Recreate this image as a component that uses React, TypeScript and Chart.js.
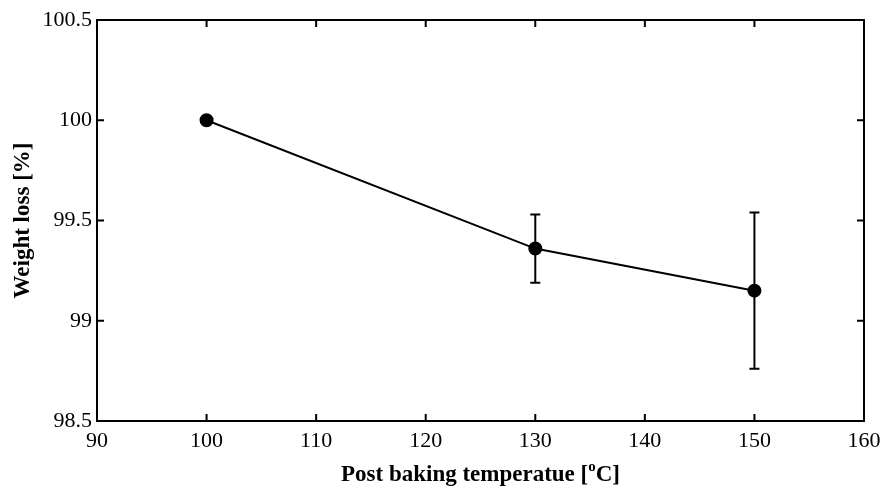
import React, { useEffect, useRef } from "react";
import { Chart, registerables } from "chart.js";

Chart.register(...registerables);

const temperatures = [100, 130, 150];
const weightLoss = [100, 99.36, 99.15];
const errorUpper = [null, 99.53, 99.54];
const errorLower = [null, 99.19, 98.76];

const xMin = 90;
const xMax = 160;
const xStep = 10;
const yMin = 98.5;
const yMax = 100.5;
const yStep = 0.5;

const xTitle = "Post baking temperatue [";
const xTitleSup = "o";
const xTitleEnd = "C]";
const yTitle = "Weight loss [%]";

const FONT = "'Liberation Serif', 'Times New Roman', serif";

const framePlugin = {
  id: "matlabFrame",
  afterDatasetsDraw(chart: any) {
    const { ctx, scales } = chart;
    const xs = scales.x;
    const ys = scales.y;
    ctx.save();
    ctx.strokeStyle = "#000";
    ctx.lineWidth = 2;
    for (let i = 0; i < temperatures.length; i++) {
      const up = errorUpper[i];
      const lo = errorLower[i];
      if (up == null || lo == null) continue;
      const px = xs.getPixelForValue(temperatures[i]);
      const pu = ys.getPixelForValue(up);
      const pl = ys.getPixelForValue(lo);
      ctx.beginPath();
      ctx.moveTo(px, pu);
      ctx.lineTo(px, pl);
      ctx.moveTo(px - 5, pu);
      ctx.lineTo(px + 5, pu);
      ctx.moveTo(px - 5, pl);
      ctx.lineTo(px + 5, pl);
      ctx.stroke();
    }
    ctx.restore();
  },
  afterDraw(chart: any) {
    const { ctx, chartArea, scales } = chart;
    const { left, right, top, bottom } = chartArea;
    const xs = scales.x;
    const ys = scales.y;
    ctx.save();
    ctx.strokeStyle = "#000";
    ctx.lineWidth = 2;
    ctx.strokeRect(left, top, right - left, bottom - top);
    const tl = 7;
    ctx.beginPath();
    for (let v = xMin; v <= xMax + 1e-9; v += xStep) {
      const px = xs.getPixelForValue(v);
      ctx.moveTo(px, bottom);
      ctx.lineTo(px, bottom - tl);
      ctx.moveTo(px, top);
      ctx.lineTo(px, top + tl);
    }
    for (let v = yMin; v <= yMax + 1e-9; v += yStep) {
      const py = ys.getPixelForValue(v);
      ctx.moveTo(left, py);
      ctx.lineTo(left + tl, py);
      ctx.moveTo(right, py);
      ctx.lineTo(right - tl, py);
    }
    ctx.stroke();

    // titles
    ctx.fillStyle = "#000";
    const big = `bold 23px ${FONT}`;
    const small = `bold 15px ${FONT}`;
    ctx.font = big;
    ctx.textBaseline = "alphabetic";
    const w1 = ctx.measureText(xTitle).width;
    ctx.font = small;
    const w2 = ctx.measureText(xTitleSup).width;
    ctx.font = big;
    const w3 = ctx.measureText(xTitleEnd).width;
    const total = w1 + w2 + w3;
    const cx = (left + right) / 2;
    let sx = cx - total / 2;
    const by = 481;
    ctx.textAlign = "left";
    ctx.fillText(xTitle, sx, by);
    sx += w1;
    ctx.font = small;
    ctx.fillText(xTitleSup, sx, by - 10);
    sx += w2;
    ctx.font = big;
    ctx.fillText(xTitleEnd, sx, by);

    ctx.translate(23, (top + bottom) / 2);
    ctx.rotate(-Math.PI / 2);
    ctx.textAlign = "center";
    ctx.textBaseline = "middle";
    ctx.font = `bold 23px ${FONT}`;
    ctx.fillText(yTitle, 0, 0);
    ctx.restore();
  },
};

export default function App() {
  const canvasRef = useRef<HTMLCanvasElement | null>(null);

  useEffect(() => {
    document.body.style.margin = "0";
    const canvas = canvasRef.current;
    if (!canvas) return;
    const chart = new Chart(canvas, {
      type: "scatter",
      data: {
        datasets: [
          {
            data: temperatures.map((t, i) => ({ x: t, y: weightLoss[i] })),
            showLine: true,
            borderColor: "#000",
            backgroundColor: "#000",
            borderWidth: 2,
            pointRadius: 6,
            pointBackgroundColor: "#000",
            pointBorderColor: "#000",
            tension: 0,
          },
        ],
      },
      options: {
        animation: false,
        responsive: false,
        maintainAspectRatio: false,
        devicePixelRatio: 1,
        layout: { padding: { top: 20, right: 20, left: 0, bottom: 0 } },
        plugins: {
          legend: { display: false },
          tooltip: { enabled: false },
        },
        scales: {
          x: {
            type: "linear",
            min: xMin,
            max: xMax,
            border: { display: false },
            grid: { display: false, drawTicks: false },
            ticks: {
              stepSize: xStep,
              color: "#000",
              font: { family: FONT, size: 22 },
              padding: 7,
              maxRotation: 0,
              callback: (v: any) => String(v),
            },
            afterFit: (s: any) => {
              s.height = 67;
              s.paddingLeft = 0;
              s.paddingRight = 0;
            },
          },
          y: {
            type: "linear",
            min: yMin,
            max: yMax,
            border: { display: false },
            grid: { display: false, drawTicks: false },
            ticks: {
              stepSize: yStep,
              color: "#000",
              font: { family: FONT, size: 22 },
              padding: 5,
              callback: (v: any) => String(v),
            },
            afterFit: (s: any) => {
              s.width = 97;
              s.paddingTop = 0;
              s.paddingBottom = 0;
            },
          },
        },
      },
      plugins: [framePlugin],
    });
    return () => chart.destroy();
  }, []);

  return (
    <div style={{ position: "absolute", left: 0, top: 0, width: 884, height: 488, background: "#fff" }}>
      <canvas ref={canvasRef} width={884} height={488} style={{ width: 884, height: 488 }} />
    </div>
  );
}
